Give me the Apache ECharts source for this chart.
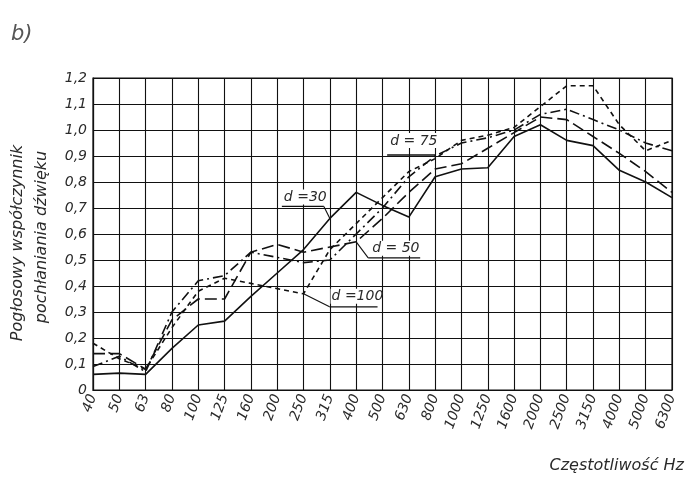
<!DOCTYPE html>
<html>
<head>
<meta charset="utf-8">
<script src="https://cdn.jsdelivr.net/npm/echarts@6/dist/echarts.min.js"></script>
<style>
html,body{margin:0;padding:0;background:#fff;}
#c{width:687px;height:479px;}
</style>
</head>
<body>
<div id="c"></div>
<script>
// Frequencies (Hz)
var categories = ['40','50','63','80','100','125','160','200','250','315','400','500','630','800','1000','1250','1600','2000','2500','3150','4000','5000','6300'];
// Reverberant sound absorption coefficient for each thickness d (mm)
var d30  = [0.06,0.065,0.06,0.16,0.25,0.265,0.36,0.45,0.54,0.66,0.76,0.71,0.665,0.82,0.85,0.855,0.975,1.02,0.96,0.94,0.845,0.80,0.74];
var d50  = [0.14,0.14,0.08,0.27,0.35,0.35,0.53,0.56,0.53,0.55,0.57,0.66,0.76,0.85,0.87,0.93,0.99,1.05,1.04,0.975,0.91,0.84,0.76];
var d75  = [0.09,0.13,0.07,0.30,0.42,0.44,0.53,0.51,0.49,0.50,0.60,0.70,0.82,0.90,0.95,0.97,1.00,1.06,1.08,1.04,1.00,0.95,0.92];
var d100 = [0.18,0.12,0.08,0.24,0.38,0.43,0.41,0.39,0.37,0.54,0.64,0.74,0.84,0.89,0.96,0.98,1.01,1.09,1.17,1.17,1.02,0.92,0.96];
var yTicks = [0,0.1,0.2,0.3,0.4,0.5,0.6,0.7,0.8,0.9,1.0,1.1,1.2];
var seriesNames = ['d =30','d = 50','d = 75','d =100'];

var FONT = 'DejaVu Sans';
var INK = '#2a2a2a';
var chart = echarts.init(document.getElementById('c'));

function lineSeries(name, data, type) {
  return {
    name: name, type: 'line', data: data, symbol: 'none', smooth: false,
    lineStyle: {color: '#111', width: 1.6, type: type}, z: 5
  };
}

chart.setOption({
  animation: false,
  backgroundColor: '#fff',
  grid: {left: 93, right: 15, top: 78, bottom: 89, show: true, borderColor: '#111', borderWidth: 1.2, backgroundColor: 'transparent'},
  xAxis: {
    type: 'category', data: categories, boundaryGap: false,
    axisLine: {lineStyle: {color: '#111', width: 1.2}},
    axisTick: {show: false},
    splitLine: {show: true, lineStyle: {color: '#111', width: 1.1}},
    axisLabel: {interval: 0, rotate: 70, margin: 5, color: INK, fontFamily: FONT, fontStyle: 'italic', fontSize: 14}
  },
  yAxis: {
    type: 'value', min: yTicks[0], max: yTicks[yTicks.length-1], interval: 0.1,
    axisLine: {show: true, lineStyle: {color: '#111', width: 1.2}},
    axisTick: {show: false},
    splitLine: {show: true, lineStyle: {color: '#111', width: 1.1}},
    axisLabel: {margin: 6, color: INK, fontFamily: FONT, fontStyle: 'italic', fontSize: 14,
      formatter: function(v){ return v === 0 ? '0' : v.toFixed(1).replace('.', ','); }}
  },
  series: [
    lineSeries(seriesNames[0], d30, 'solid'),
    lineSeries(seriesNames[1], d50, [12,5]),
    lineSeries(seriesNames[2], d75, [10,4,2,4]),
    lineSeries(seriesNames[3], d100, [5,4])
  ]
});

// annotations anchored to series points
function px(i, v){ return chart.convertToPixel({gridIndex:0}, [i, v]); }
var els = [];
function label(text, anchor, tx, ty, ux1, ux2, uy, leader) {
  var a = anchor;
  els.push({type:'rect', shape:{x:a[0]+tx-1, y:a[1]+ty-15, width: text.length*7.6+2, height: 15}, style:{fill:'#fff'}, z: 15});
  els.push({type:'text', x: a[0]+tx, y: a[1]+ty, style:{text: text, font: 'italic 14px "'+FONT+'"', fill: INK, textVerticalAlign:'bottom'}, z: 20});
  els.push({type:'line', shape:{x1:a[0]+ux1, y1:a[1]+uy, x2:a[0]+ux2, y2:a[1]+uy}, style:{stroke:'#111', lineWidth:1.3}, z:20});
  if (leader) {
    els.push({type:'line', shape:{x1:a[0]+leader[0], y1:a[1]+leader[1], x2:a[0], y2:a[1]}, style:{stroke:'#111', lineWidth:1.1}, z:20});
  }
}
var p30 = px(9, d30[9]);
label(seriesNames[0], p30, -46, -14, -48, -6, -12, [-6,-12]);
var p50 = px(10, d50[10]);
label(seriesNames[1], p50, 16, 14, 12, 64, 16, [12,16]);
var p75 = px(13, d75[13]);
label(seriesNames[2], p75, -45, -8, -48, 0, -1, null);
var p100 = px(8, d100[8]);
label(seriesNames[3], p100, 28, 10, 26, 74, 13, [26,13]);

// titles
els.push({type:'text', x: 11, y: 24, style:{text:'b)', font:'italic 21px "'+FONT+'"', fill:'#555'}});
els.push({type:'text', x: 684, y: 474, style:{text:'Częstotliwość Hz', font:'italic 16px "'+FONT+'"', fill: INK, textAlign:'right', textVerticalAlign:'bottom'}});
els.push({type:'text', x: 18, y: 243, rotation: Math.PI/2, style:{text:'Pogłosowy współczynnik', font:'italic 16px "'+FONT+'"', fill: INK, textAlign:'center', textVerticalAlign:'middle'}});
els.push({type:'text', x: 42, y: 237, rotation: Math.PI/2, style:{text:'pochłaniania dźwięku', font:'italic 16px "'+FONT+'"', fill: INK, textAlign:'center', textVerticalAlign:'middle'}});
chart.setOption({graphic: els});
</script>
</body>
</html>
